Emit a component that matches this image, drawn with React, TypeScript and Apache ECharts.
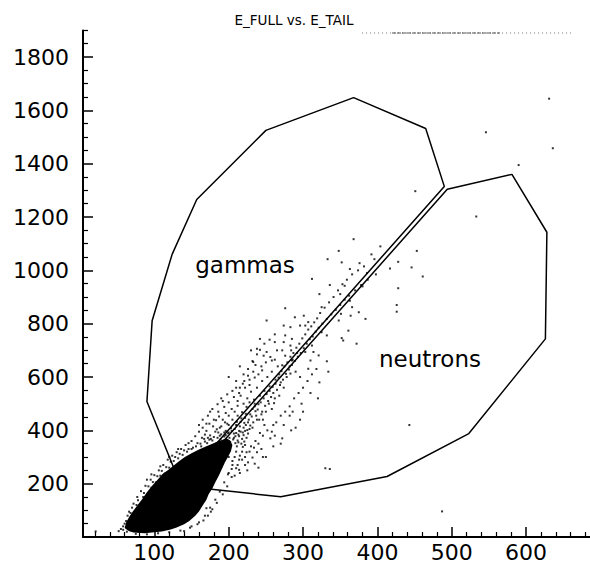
import React, { useEffect, useRef } from "react";
import * as echarts from "echarts";

// Axis ticks
const xMajor = [100, 200, 300, 400, 500, 600];
const xMinor = [20, 40, 60, 80, 120, 140, 160, 180, 220, 240, 260, 280, 320, 340, 360, 380, 420, 440, 460, 480, 520, 540, 560, 580, 620, 640, 660, 680];
const yMajor = [200, 400, 600, 800, 1000, 1200, 1400, 1600, 1800];
const yMinor = [50, 100, 150, 250, 300, 350, 450, 500, 550, 650, 700, 750, 850, 900, 950, 1050, 1100, 1150, 1250, 1300, 1350, 1450, 1500, 1550, 1650, 1700, 1750, 1850, 1900];

// Cut polygons (E_FULL on x, E_TAIL on y)
const gammasCut: [number, number][] = [
  [135, 198], [90, 508], [97, 811], [124, 1061], [157, 1266], [250, 1525],
  [368, 1648], [465, 1532], [490, 1315], [135, 198],
];
const neutronsCut: [number, number][] = [
  [139, 190], [270, 151], [413, 227], [523, 388], [626, 743], [628, 1143],
  [581, 1360], [494, 1304], [139, 190],
];

// Dense core of the event distribution (outline)
const denseCore: [number, number][] = [
  [60, 34], [66, 22], [72, 17], [87, 14], [100, 18], [110, 21], [122, 28], [130, 36], [140, 48],
  [147, 60], [155, 80], [160, 96], [165, 118], [170, 140], [173, 160], [178, 182], [182, 205],
  [187, 232], [191, 256], [195, 280], [199, 300], [203, 322], [205, 345], [202, 362], [197, 370],
  [191, 364], [185, 358], [178, 350], [170, 340], [160, 328], [150, 314], [141, 300], [134, 286],
  [126, 268], [119, 252], [111, 236], [104, 214], [97, 192], [90, 168], [83, 140], [77, 118],
  [71, 96], [66, 75], [62, 54],
];

// Individual events outside the dense core
const events: [number, number][] = [
  [21, 21], [58, 27], [58, 40], [62, 60], [66, 95], [70, 110], [72, 125], [77, 150], [78, 138],
  [82, 172], [86, 165], [88, 192], [92, 190], [95, 215], [98, 206], [100, 232], [104, 228],
  [106, 250], [110, 248], [112, 270], [116, 262], [118, 290], [122, 282], [124, 305], [128, 300],
  [130, 318], [134, 312], [136, 330], [140, 325], [142, 345], [90, 215], [96, 235], [108, 265],
  [120, 300], [132, 330], [146, 352],
  [55, 30], [52, 22], [63, 20], [75, 12], [90, 10], [105, 14], [120, 18], [135, 24], [148, 35],
  [158, 48], [166, 62], [172, 80], [178, 104], [60, 50], [64, 80], [68, 90], [76, 120], [80, 110],
  [85, 150], [90, 160], [96, 185], [102, 205], [108, 230], [114, 238], [120, 260], [126, 285],
  [132, 295], [138, 308], [144, 320], [150, 330], [156, 340], [162, 350], [168, 358], [174, 365],
  [140, 22], [150, 40], [160, 55], [168, 80], [175, 110], [182, 140], [188, 170], [194, 205],
  [200, 240], [205, 270], [208, 300], [170, 108], [176, 95], [184, 128], [192, 160], [198, 190],
  [204, 225], [210, 258], [214, 290], [218, 320], [222, 345],
  [152, 335], [158, 352], [163, 340], [167, 368], [171, 352], [175, 381], [178, 362], [182, 395],
  [185, 372], [188, 410], [190, 385], [193, 360], [196, 398], [198, 425], [201, 372], [203, 408],
  [205, 440], [207, 388], [210, 420], [212, 455], [214, 398], [216, 432], [218, 468], [220, 410],
  [222, 447], [146, 330], [150, 360], [155, 378], [160, 395], [165, 410], [170, 398], [174, 425],
  [179, 415], [183, 438], [187, 452], [192, 440], [196, 465], [200, 455], [204, 480], [208, 470],
  [212, 492], [226, 430], [229, 460], [232, 480], [224, 488], [220, 500], [228, 505], [236, 472],
  [240, 498], [234, 515],
  [181, 340], [184, 352], [187, 338], [189, 366], [191, 349], [194, 377], [197, 342], [199, 389],
  [202, 356], [204, 398], [206, 366], [208, 405], [209, 378], [211, 432], [213, 384], [215, 415],
  [217, 445], [219, 392], [221, 428], [223, 462], [225, 401], [227, 440], [229, 418], [231, 452],
  [233, 430], [235, 490], [237, 455], [239, 478], [241, 440], [243, 505], [245, 470], [247, 520],
  [249, 492], [251, 536], [253, 510], [255, 548], [257, 525], [259, 563], [261, 502], [263, 575],
  [265, 552], [267, 598], [269, 570], [271, 622], [273, 590], [275, 640], [277, 612], [279, 655],
  [281, 628], [283, 676], [285, 645], [287, 690], [289, 660], [291, 710], [293, 676], [295, 725],
  [297, 690], [299, 745], [301, 708], [303, 760], [305, 725], [307, 778], [309, 742], [311, 790],
  [313, 752], [315, 805], [317, 770], [319, 820], [321, 785], [323, 840], [326, 800], [329, 860],
  [332, 818], [335, 880], [338, 835], [341, 900], [344, 852], [347, 925], [350, 870], [353, 948],
  [356, 890], [359, 965], [362, 905], [366, 985], [370, 925], [374, 1000], [378, 945], [382, 1015],
  [387, 965], [392, 1060], [398, 985], [404, 1090],
  [165, 440], [172, 455], [178, 480], [185, 498], [192, 510], [198, 535], [205, 548], [210, 585],
  [215, 560], [220, 610], [226, 630], [232, 660], [238, 685], [180, 440], [170, 425], [186, 470],
  [194, 488], [200, 505], [207, 525], [214, 540], [221, 585], [228, 570], [235, 598], [242, 702],
  [248, 725], [255, 740], [262, 760], [230, 700], [215, 640],
  [222, 300], [228, 320], [234, 335], [240, 350], [246, 380], [252, 400], [258, 395], [264, 430],
  [270, 455], [276, 470], [282, 490], [288, 520], [294, 540], [300, 560], [306, 585], [312, 610],
  [318, 630], [226, 280], [232, 298], [238, 318], [244, 330], [256, 370], [262, 380], [274, 420],
  [286, 470], [298, 500], [310, 540], [322, 580], [334, 620], [215, 240], [225, 250], [235, 275],
  [246, 300], [260, 340], [272, 370], [284, 400], [296, 440],
  [200, 300], [205, 285], [210, 320], [215, 305], [204, 255], [212, 270], [218, 290], [224, 318],
  [230, 340], [236, 360], [242, 390], [248, 420], [199, 235], [208, 230], [214, 252], [222, 270],
  [232, 410], [238, 440], [244, 460], [250, 470], [246, 440], [254, 500], [258, 480], [262, 520],
  [225, 520], [230, 545], [235, 500], [238, 560], [242, 530], [245, 585], [248, 548], [252, 600],
  [255, 565], [258, 620], [260, 540], [263, 590], [266, 640], [268, 610], [222, 560], [228, 590],
  [233, 620], [240, 610], [244, 640], [250, 655], [256, 675], [216, 530], [212, 510], [219, 575],
  [226, 605], [236, 645], [247, 680], [262, 665], [270, 580], [274, 560], [268, 530], [278, 600],
  [282, 640], [276, 680], [284, 700], [272, 700], [286, 665], [290, 620], [292, 690],
  [250, 300], [270, 350], [290, 410], [240, 260], [300, 470], [320, 520], [260, 420], [282, 455],
  [330, 258], [336, 255], [160, 420], [175, 470], [190, 520], [210, 560], [200, 600],
  [207, 372], [210, 390], [212, 362], [214, 378], [216, 395], [218, 368], [209, 352], [211, 340],
  [213, 355], [220, 382], [222, 398], [224, 372], [226, 388], [228, 405], [217, 350], [219, 338],
  [221, 358], [223, 420], [196, 382], [200, 392], [194, 392], [188, 380], [186, 392], [180, 375],
  [176, 368], [172, 372], [168, 384], [164, 372], [184, 404], [190, 415], [195, 430], [200, 420],
  [368, 1117], [348, 1073], [333, 1042], [352, 1030], [376, 1027], [363, 1005], [396, 1042],
  [386, 990], [417, 1007], [428, 1032], [446, 1011], [453, 1073], [461, 977], [312, 968],
  [336, 945], [322, 911], [356, 942], [380, 940], [428, 933], [426, 870], [426, 845], [325, 862],
  [350, 911], [363, 886], [366, 862], [351, 837], [364, 830], [375, 843], [384, 818], [361, 774],
  [348, 812], [276, 858], [289, 824], [301, 830], [296, 793], [303, 793], [307, 806], [274, 793],
  [283, 787], [251, 812], [325, 768], [332, 756], [352, 746], [354, 737], [372, 725], [312, 718],
  [314, 694], [310, 662], [332, 659], [321, 681], [285, 743], [274, 731], [262, 731], [276, 756],
  [265, 700], [283, 718], [242, 743], [238, 706], [251, 694], [233, 656], [245, 625], [283, 613],
  [296, 600], [307, 631], [272, 644], [285, 662], [258, 662], [303, 694],
  [451, 1297], [533, 1202], [443, 420], [487, 96],
  [631, 1644], [546, 1518], [636, 1458], [590, 1395],
];

export default function App() {
  const ref = useRef<HTMLDivElement>(null);
  useEffect(() => {
    if (!ref.current) return;
    const chart = echarts.init(ref.current, undefined, { renderer: "svg" });
    const font = "DejaVu Sans";
    const lineCut = (name: string, data: [number, number][]) => ({
      name,
      type: "line",
      data,
      symbol: "none",
      lineStyle: { color: "#000", width: 1.5 },
      z: 5,
      silent: true,
    });
    const plain = (v: number) => String(v);
    chart.setOption({
      animation: false,
      backgroundColor: "#fff",
      grid: { left: 83, right: 0, top: 30.4, bottom: 24, containLabel: false },
      xAxis: [
        {
          type: "value", min: 4, max: 686, position: "bottom",
          axisLine: { show: true, onZero: false, lineStyle: { color: "#000", width: 2 } },
          axisTick: { show: true, inside: true, length: 10, customValues: xMajor, lineStyle: { color: "#000", width: 1.5 } },
          axisLabel: { customValues: xMajor, formatter: plain, fontSize: 22, fontFamily: font, color: "#000", margin: 4 },
          splitLine: { show: false },
        },
        {
          type: "value", min: 4, max: 686, position: "bottom",
          axisLine: { show: false, onZero: false },
          axisTick: { show: true, inside: true, length: 5, customValues: xMinor, lineStyle: { color: "#000", width: 1.2 } },
          axisLabel: { show: false },
          splitLine: { show: false },
        },
      ],
      yAxis: [
        {
          type: "value", min: 0, max: 1900, position: "left",
          axisLine: { show: true, onZero: false, lineStyle: { color: "#000", width: 2 } },
          axisTick: { show: true, inside: true, length: 10, customValues: yMajor, lineStyle: { color: "#000", width: 1.5 } },
          axisLabel: { customValues: yMajor, formatter: plain, fontSize: 22, fontFamily: font, color: "#000", margin: 14 },
          splitLine: { show: false },
        },
        {
          type: "value", min: 0, max: 1900, position: "left",
          axisLine: { show: false, onZero: false },
          axisTick: { show: true, inside: true, length: 5, customValues: yMinor, lineStyle: { color: "#000", width: 1.2 } },
          axisLabel: { show: false },
          splitLine: { show: false },
        },
      ],
      series: [
        {
          name: "core",
          type: "custom",
          data: denseCore,
          encode: { x: 0, y: 1 },
          renderItem: (params: any, api: any) => {
            if (params.dataIndex !== 0) return null;
            const pts = denseCore.map((p) => api.coord(p));
            return { type: "polygon", shape: { points: pts }, style: { fill: "#000" } };
          },
          silent: true,
          z: 2,
        },
        {
          name: "events",
          type: "scatter",
          data: events,
          symbol: "rect",
          symbolSize: 2,
          itemStyle: { color: "#000" },
          silent: true,
          z: 3,
        },
        lineCut("gammas", gammasCut),
        lineCut("neutrons", neutronsCut),
      ],
      graphic: [
        {
          type: "text", x: 294, y: 20,
          style: { text: "E_FULL vs. E_TAIL", fontSize: 13.5, fontFamily: font, fill: "#000", align: "center", verticalAlign: "middle" },
        },
        {
          type: "line", shape: { x1: 362, y1: 33, x2: 572, y2: 33 },
          style: { stroke: "#777", lineWidth: 1, lineDash: [1, 3] },
        },
        {
          type: "line", shape: { x1: 392, y1: 33, x2: 500, y2: 33 },
          style: { stroke: "#555", lineWidth: 1, lineDash: [4, 1] },
        },
        {
          type: "text", x: 245, y: 265,
          style: { text: "gammas", fontSize: 23, fontFamily: font, fill: "#000", align: "center", verticalAlign: "middle" },
        },
        {
          type: "text", x: 430, y: 359,
          style: { text: "neutrons", fontSize: 23, fontFamily: font, fill: "#000", align: "center", verticalAlign: "middle" },
        },
      ],
    });
    return () => chart.dispose();
  }, []);
  return <div ref={ref} style={{ position: "fixed", left: 0, top: 0, width: 590, height: 563, background: "#fff" }} />;
}
